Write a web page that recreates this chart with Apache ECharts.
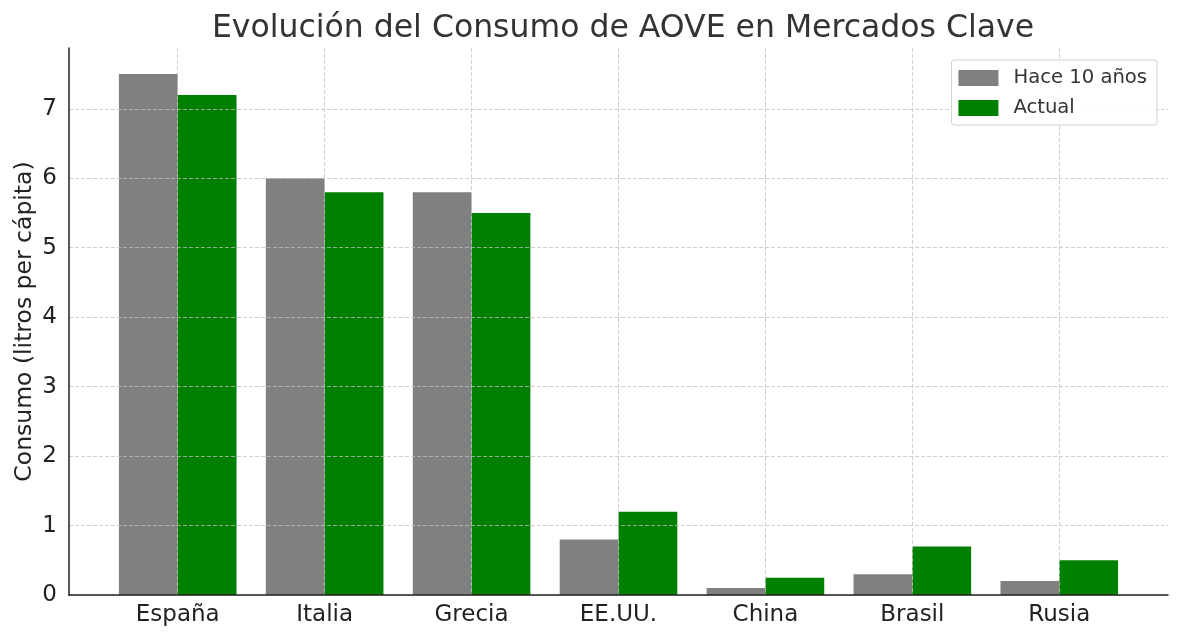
<!DOCTYPE html>
<html>
<head>
<meta charset="utf-8">
<script src="https://cdn.jsdelivr.net/npm/echarts@6/dist/echarts.min.js"></script>
<style>
html,body{margin:0;padding:0;background:#fff;}
#chart{width:1181px;height:640px;}
</style>
</head>
<body>
<div id="chart"></div>
<script>
const categories = ['España', 'Italia', 'Grecia', 'EE.UU.', 'China', 'Brasil', 'Rusia'];
const hace10 = [7.5, 6.0, 5.8, 0.8, 0.1, 0.3, 0.2];
const actual = [7.2, 5.8, 5.5, 1.2, 0.25, 0.7, 0.5];
const yTicks = [0, 1, 2, 3, 4, 5, 6, 7];
const seriesNames = ['Hace 10 años', 'Actual'];
const title = 'Evolución del Consumo de AOVE en Mercados Clave';
const yName = 'Consumo (litros per cápita)';

const font = 'DejaVu Sans';
const gridColor = 'rgba(192,192,192,0.75)';
const xIdx = categories.map((c, i) => i);

const chart = echarts.init(document.getElementById('chart'), null, {renderer: 'canvas'});
chart.setOption({
  animation: false,
  backgroundColor: '#fff',
  title: {
    text: title, left: 618, top: 8, textAlign: 'center',
    textStyle: {fontFamily: font, fontSize: 31.5, fontWeight: 'normal', color: '#333'}
  },
  legend: {
    right: 24, top: 60, orient: 'vertical', zlevel: 2,
    itemWidth: 40, itemHeight: 16, itemGap: 10,
    padding: [8, 10, 7, 7],
    borderColor: '#d0d0d0', borderWidth: 1, borderRadius: 3,
    backgroundColor: 'rgba(255,255,255,0.85)',
    textStyle: {fontFamily: font, fontSize: 19.6, color: '#333', padding: [0, 0, 0, 10]},
    data: seriesNames.map(n => ({name: n, icon: 'rect'}))
  },
  grid: {left: 69, right: 13, top: 48, bottom: 45},
  xAxis: {
    type: 'value', min: -0.74, max: 6.74, zlevel: 1, z: 10,
    axisLine: {show: true, onZero: false, lineStyle: {color: '#222', width: 1.5}},
    axisTick: {show: false, customValues: xIdx},
    axisLabel: {customValues: xIdx, formatter: v => categories[Math.round(v)] || '',
      fontFamily: font, fontSize: 23, color: '#222', margin: 9},
    splitLine: {show: true, lineStyle: {color: gridColor, type: [4, 2], width: 1}}
  },
  yAxis: {
    type: 'value', min: 0, max: 7.875, zlevel: 1, z: 10,
    name: yName, nameLocation: 'middle', nameGap: 32, nameMoveOverlap: false,
    nameTextStyle: {fontFamily: font, fontSize: 23.5, color: '#222'},
    axisLine: {show: true, onZero: false, lineStyle: {color: '#222', width: 1.5}},
    axisTick: {show: false, customValues: yTicks},
    axisLabel: {customValues: yTicks, fontFamily: font, fontSize: 23, color: '#222', margin: 12},
    splitLine: {show: true, lineStyle: {color: gridColor, type: [4, 2], width: 1}}
  },
  series: [
    {name: seriesNames[0], type: 'bar', barWidth: 58.8, barGap: '0%', z: 1,
     itemStyle: {color: '#808080'}, data: hace10.map((v, i) => [i, v])},
    {name: seriesNames[1], type: 'bar', barWidth: 58.8, barGap: '0%', z: 1,
     itemStyle: {color: '#008000'}, data: actual.map((v, i) => [i, v])}
  ]
});
</script>
</body>
</html>
